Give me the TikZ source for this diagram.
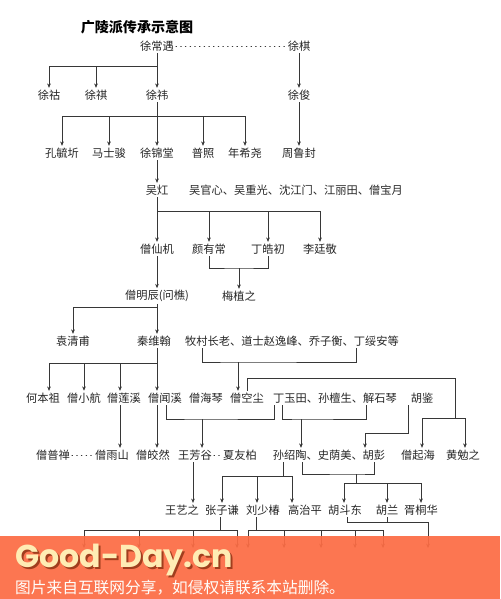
\documentclass[tikz,border=0pt]{standalone}
\usepackage{fontspec}
\newfontfamily\cjkfont{Noto Sans CJK SC}
\newfontfamily\bannerfont{Poppins}
\usetikzlibrary{arrows.meta}
\definecolor{linegray}{RGB}{55,55,55}
\definecolor{bannerorange}{RGB}{252,108,68}
\definecolor{bannercream}{RGB}{255,236,180}
\definecolor{bannershadow}{RGB}{160,62,30}

\begin{document}
\begin{tikzpicture}[
    x=0.03cm, y=-0.03cm,
    names/.style={font=\cjkfont\fontsize{9.6}{11}\selectfont, inner sep=1.5pt, text=black!85},
    heading/.style={font=\cjkfont\bfseries\fontsize{12}{14}\selectfont, inner sep=0pt},
    link/.style={draw=linegray, line width=0.5pt},
    arr/.style={link, -{Stealth[length=1.3mm, width=1.1mm]}},
    dotline/.style={link, dash pattern=on 0.7pt off 3.3pt, line cap=round},
    logo/.style={font=\bannerfont\bfseries\fontsize{27}{28}\selectfont, inner sep=0pt},
    notice/.style={font=\cjkfont\fontsize{13.4}{15}\selectfont, inner sep=0pt, text=white!95!bannercream}
]
    \useasboundingbox (0,0) rectangle (500,599);

    \node[heading] (title) at (137,27) {广陵派传承示意图};

    % generations
    \node[names] (xcy) at (157,46) {徐常遇};
    \node[names] (xq) at (299,46) {徐棋};

    \node[names] (xh) at (49,95) {徐祜};
    \node[names] (xs) at (96,95) {徐祺};
    \node[names] (xw) at (157,95) {徐祎};
    \node[names] (xj) at (299,95) {徐俊};

    \node[names] (kong) at (62,153) {孔毓圻};
    \node[names] (ma) at (109,153) {马士骏};
    \node[names] (jin) at (157,153) {徐锦堂};
    \node[names] (pu) at (203,153) {普照};
    \node[names] (nian) at (245,153) {年希尧};
    \node[names] (zhou) at (299,153) {周鲁封};

    \node[names] (wuh) at (157,190) {吴灴};
    \node[names] (wulist) at (296,190) {吴官心、吴重光、沈江门、江丽田、僧宝月};

    \node[names] (xianji) at (157,249) {僧仙机};
    \node[names] (yan) at (209,249) {颜有常};
    \node[names] (dinghao) at (268,249) {丁皓初};
    \node[names] (li) at (320,249) {李廷敬};

    \node[names] (ming) at (157,296) {僧明辰(问樵)};
    \node[names] (mei) at (239,296) {梅植之};

    \node[names] (yuan) at (73,341) {袁清甫};
    \node[names] (qin) at (154,341) {秦维翰};
    \node[names] (mu) at (292,341) {牧村长老、道士赵逸峰、乔子衡、丁绥安等};

    \node[names] (he) at (43,398) {何本祖};
    \node[names] (xiaohang) at (84,398) {僧小航};
    \node[names] (lianxi) at (124,398) {僧莲溪};
    \node[names] (wenxi) at (165,398) {僧闻溪};
    \node[names] (haiqin) at (206,398) {僧海琴};
    \node[names] (kongchen) at (247,398) {僧空尘};
    \node[names] (yutian) at (335,398) {丁玉田、孙檀生、解石琴};
    \node[names] (hujian) at (422,398) {胡鉴};

    \node[names] (puchan) at (53,455) {僧普禅};
    \node[names] (yushan) at (112,455) {僧雨山};
    \node[names] (jiaoran) at (153,455) {僧皎然};
    \node[names] (wangfang) at (195,455) {王芳谷};
    \node[names] (xiayou) at (240,455) {夏友柏};
    \node[names] (sun) at (329,455) {孙绍陶、史荫美、胡彭};
    \node[names] (qihai) at (418,455) {僧起海};
    \node[names] (huangmian) at (463,455) {黄勉之};

    \node[names] (wangyi) at (182,510) {王艺之};
    \node[names] (zhang) at (222,510) {张子谦};
    \node[names] (liu) at (263,510) {刘少椿};
    \node[names] (gao) at (305,510) {高治平};
    \node[names] (hudong) at (345,510) {胡斗东};
    \node[names] (hulan) at (387,510) {胡兰};
    \node[names] (xutong) at (421,510) {胥桐华};

    % connectors
    \draw[dotline] (xcy) -- (xq);
    \coordinate (j-xcy) at (157,66);
    \draw[link] (xcy) -- (j-xcy);
    \draw[arr] (j-xcy) -| (xh);
    \draw[arr] (j-xcy) -| (xs);
    \draw[arr] (j-xcy) -- (xw);
    \draw[arr] (xq) -- (xj);

    \coordinate (j-xw) at (157,116);
    \draw[link] (xw) -- (j-xw);
    \draw[arr] (j-xw) -| (kong);
    \draw[arr] (j-xw) -| (ma);
    \draw[arr] (j-xw) -- (jin);
    \draw[arr] (j-xw) -| (pu);
    \draw[arr] (j-xw) -| (nian);
    \draw[arr] (xj) -- (zhou);

    \draw[arr] (jin) -- (wuh);
    \coordinate (j-wuh) at (157,211);
    \draw[link] (wuh) -- (j-wuh);
    \draw[arr] (j-wuh) -- (xianji);
    \draw[arr] (j-wuh) -| (yan);
    \draw[arr] (j-wuh) -| (dinghao);
    \draw[arr] (j-wuh) -| (li);

    \coordinate (j-mei) at (239,268);
    \draw[link] (yan) |- (j-mei) -| (dinghao);
    \draw[arr] (j-mei) -- (mei);

    \draw[arr] (xianji) -- (ming);
    \coordinate (j-ming) at (157,307);
    \draw[link] (ming) -- (j-ming);
    \draw[arr] (j-ming) -| (yuan);
    \draw[arr] (j-ming) -- (157,0 |- qin.north);

    \coordinate (j-mu) at (238,362);
    \draw[link] (202,0 |- mu.south) |- (j-mu) -| (356,0 |- mu.south);
    \draw[arr] (j-mu) -- (238,0 |- kongchen.north);

    \coordinate (j-qin) at (157,363);
    \draw[link] (157,0 |- qin.south) -- (j-qin);
    \draw[arr] (j-qin) -| (49,0 |- he.north);
    \draw[arr] (j-qin) -| (xiaohang);
    \draw[arr] (j-qin) -| (120,0 |- lianxi.north);
    \draw[arr] (j-qin) -- (157,0 |- wenxi.north);

    \coordinate (j-kong) at (455,418);
    \draw[link] (kongchen) |- (455,378) -- (j-kong);
    \draw[arr] (j-kong) -| (422,0 |- qihai.north);
    \draw[arr] (j-kong) -| (465,0 |- huangmian.north);

    \draw[arr] (120,0 |- lianxi.south) -- (120,0 |- yushan.north);
    \draw[arr] (157,0 |- wenxi.south) -- (157,0 |- jiaoran.north);
    \coordinate (j-wang) at (202,419);
    \draw[link] (166,0 |- wenxi.south) |- (j-wang) -| (274,0 |- yutian.south);
    \draw[arr] (j-wang) -- (202,0 |- wangfang.north);

    \coordinate (j-yutian) at (301,419);
    \draw[link] (282,0 |- yutian.south) |- (j-yutian) -| (366,0 |- yutian.south);
    \draw[arr] (j-yutian) -- (301,0 |- sun.north);
    \draw[arr] (408,0 |- hujian.south) |- (365,433) -- (365,0 |- sun.north);

    \draw[dotline] (puchan) -- (yushan);
    \draw[dotline] (wangfang) -- (xiayou);
    \draw[arr] (193,0 |- wangfang.south) -- (193,0 |- wangyi.north);

    \coordinate (j-sun) at (283,476);
    \draw[link] (283,0 |- sun.south) -- (j-sun);
    \draw[arr] (j-sun) -| (zhang);
    \draw[arr] (j-sun) -| (257,0 |- liu.north);
    \draw[arr] (j-sun) -| (292,0 |- gao.north);

    \coordinate (j-shi) at (356,474);
    \coordinate (j-hu) at (356,483);
    \draw[link] (302,0 |- sun.south) |- (j-shi) -| (374,0 |- sun.south);
    \draw[link] (j-shi) -- (j-hu);
    \draw[arr] (j-hu) -| (344,0 |- hudong.north);
    \draw[arr] (j-hu) -| (hulan);
    \draw[arr] (j-hu) -| (xutong);

    % next generation, under the banner
    \coordinate (j-zhang) at (220,530);
    \draw[link] (220,0 |- zhang.south) -- (j-zhang);
    \foreach \x [count=\i] in {84,139,193,237} {
        \coordinate (zz\i) at (\x,548);
        \draw[arr] (j-zhang) -| (zz\i);
    }
    \coordinate (j-liu) at (256,530);
    \draw[link] (256,0 |- liu.south) -- (j-liu);
    \foreach \x [count=\i] in {248,284,321,355,383} {
        \coordinate (ll\i) at (\x,548);
        \draw[arr] (j-liu) -| (ll\i);
    }
    \coordinate (j-hudong) at (428,522);
    \coordinate (hd1) at (428,548);
    \draw[link] (347,0 |- hudong.south) |- (j-hudong);
    \draw[link] (hulan) -- (387,0 |- j-hudong);
    \draw[arr] (j-hudong) -- (hd1);

    % banner
    \fill[bannerorange, fill opacity=0.93] (0,536) rectangle (500,599);
    \node[logo, text=bannershadow, anchor=west] (logoshade) at (17,561.5) {Good-Day.cn};
    \node[logo, text=bannercream, anchor=west] (logotext) at (15,560) {Good-Day.cn};
    \node[notice, anchor=west] (note) at (15,588) {图片来自互联网分享，如侵权请联系本站删除。};
\end{tikzpicture}
\end{document}
